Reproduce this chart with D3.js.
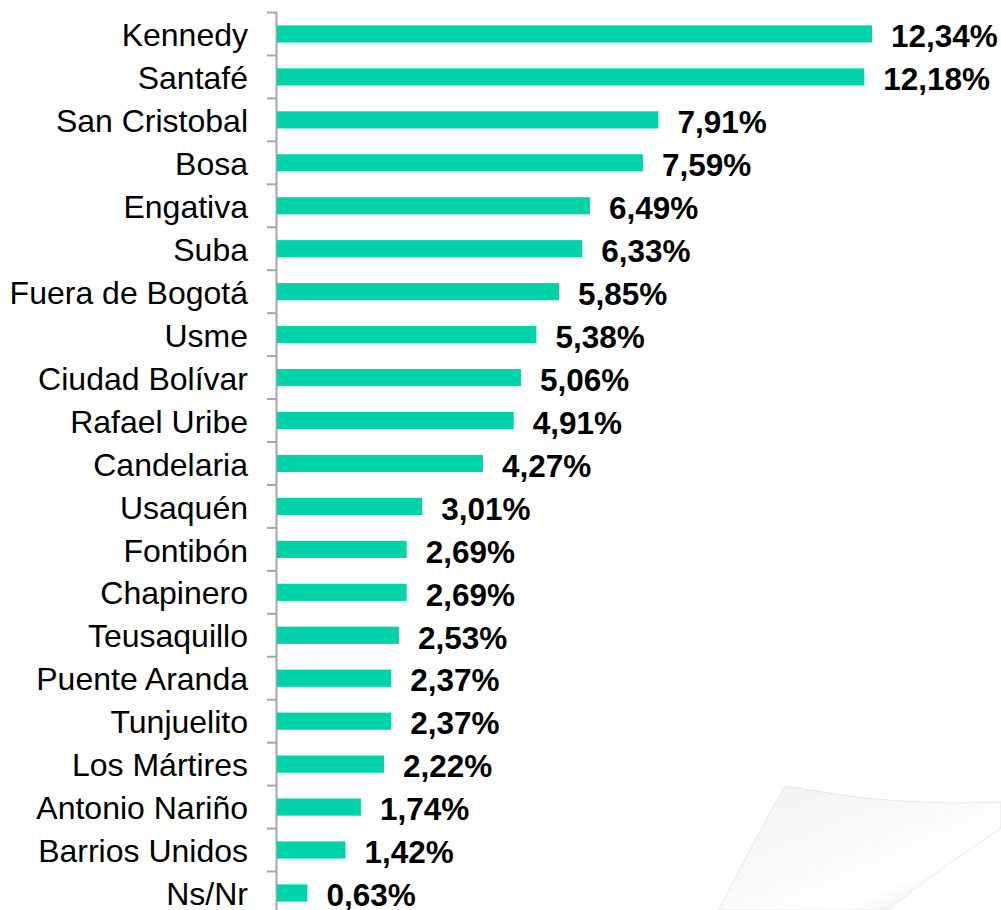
<!DOCTYPE html>
<html lang="es">
<head>
<meta charset="utf-8">
<script src="https://d3js.org/d3.v7.min.js"></script>
<style>
  body { margin: 0; background: #fff; }
  svg { display: block; }
</style>
</head>
<body>
<script>
const localidades = ["Kennedy", "Santafé", "San Cristobal", "Bosa", "Engativa", "Suba",
  "Fuera de Bogotá", "Usme", "Ciudad Bolívar", "Rafael Uribe", "Candelaria", "Usaquén",
  "Fontibón", "Chapinero", "Teusaquillo", "Puente Aranda", "Tunjuelito", "Los Mártires",
  "Antonio Nariño", "Barrios Unidos", "Ns/Nr"];
const porcentajes = [12.34, 12.18, 7.91, 7.59, 6.49, 6.33, 5.85, 5.38, 5.06, 4.91, 4.27,
  3.01, 2.69, 2.69, 2.53, 2.37, 2.37, 2.22, 1.74, 1.42, 0.63];

const width = 1001, height = 910;
const x0 = 277;
const fontFam = "'Liberation Sans', Arial, sans-serif";

const svg = d3.select("body").append("svg")
  .attr("width", width)
  .attr("height", height);

// page curl decoration (bottom right)
const defs = svg.append("defs");
const grad = defs.append("linearGradient")
  .attr("id", "curl")
  .attr("x1", "0%").attr("y1", "0%")
  .attr("x2", "100%").attr("y2", "100%");
grad.append("stop").attr("offset", "0%").attr("stop-color", "#f2f2f2");
grad.append("stop").attr("offset", "45%").attr("stop-color", "#f9f9f9");
grad.append("stop").attr("offset", "70%").attr("stop-color", "#ffffff");
grad.append("stop").attr("offset", "100%").attr("stop-color", "#e4e4e4");

svg.append("path")
  .attr("d", "M785,786 C840,795 900,806 1001,802 L1001,828 C960,855 920,885 887,910 L718,910 C740,870 765,820 785,786 Z")
  .attr("fill", "url(#curl)")
  .attr("stroke", "#d8d8d8")
  .attr("stroke-width", 0.6);

const x = d3.scaleLinear()
  .domain([0, 12.34])
  .range([x0, 872]);

const y = d3.scaleBand()
  .domain(localidades)
  .range([12.5, 12.5 + 21 * 42.95])
  .paddingInner(0.6)
  .paddingOuter(0.3);

// axis line with ticks at category boundaries
const axis = svg.append("g");
axis.append("line")
  .attr("x1", x0 - 0.5).attr("x2", x0 - 0.5)
  .attr("y1", y.range()[0]).attr("y2", y.range()[1])
  .attr("stroke", "#a6a6a6").attr("stroke-width", 2);
const bounds = d3.range(localidades.length + 1).map(i => y.range()[0] + i * y.step());
axis.selectAll("line.tick").data(bounds).enter().append("line")
  .attr("class", "tick")
  .attr("x1", x0 - 10).attr("x2", x0)
  .attr("y1", d => d).attr("y2", d => d)
  .attr("stroke", "#a6a6a6").attr("stroke-width", 2);

svg.selectAll("rect.bar").data(porcentajes).enter().append("rect")
  .attr("class", "bar")
  .attr("x", x0)
  .attr("y", (d, i) => y(localidades[i]))
  .attr("width", d => x(d) - x0)
  .attr("height", y.bandwidth())
  .attr("fill", "#00d3aa");

svg.selectAll("text.cat").data(localidades).enter().append("text")
  .attr("class", "cat")
  .attr("x", 248)
  .attr("y", d => y(d) + y.bandwidth() / 2)
  .attr("dy", "0.38em")
  .attr("text-anchor", "end")
  .attr("font-family", fontFam)
  .attr("font-size", 32)
  .attr("fill", "#000")
  .text(d => d);

svg.selectAll("text.val").data(porcentajes).enter().append("text")
  .attr("class", "val")
  .attr("x", d => x(d) + 19)
  .attr("y", (d, i) => y(localidades[i]) + y.bandwidth() / 2)
  .attr("dy", "0.42em")
  .attr("font-family", fontFam)
  .attr("font-size", 31.5)
  .attr("font-weight", "bold")
  .attr("fill", "#000")
  .text(d => d.toFixed(2).replace(".", ",") + "%");
</script>
</body>
</html>
